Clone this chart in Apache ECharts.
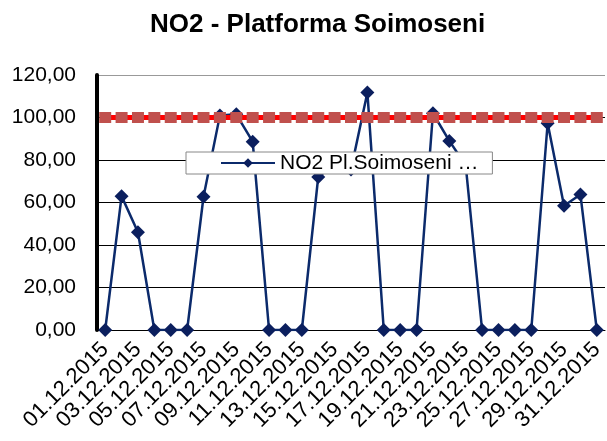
<!DOCTYPE html>
<html>
<head>
<meta charset="utf-8">
<script src="https://cdn.jsdelivr.net/npm/echarts@6/dist/echarts.min.js"></script>
<style>
  html, body { margin: 0; padding: 0; background: #fff; }
  #chart { width: 607px; height: 441px; }
</style>
</head>
<body>
<div id="chart"></div>
<script>
// zilele lunii
const days = [];
for (let d = 1; d <= 31; d++) days.push((d < 10 ? '0' + d : '' + d) + '.12.2015');

// valori NO2
const no2Values = [0, 63, 46, 0, 0, 0, 62.7, 101, 101.5, 88.6, 0, 0, 0, 72, 78, 75.5, 111.8,
    0, 0, 0, 102, 89, 77.5, 0, 0, 0, 0, 97.3, 58.5, 63.8, 0];
// valoare limita
const limitValues = days.map(() => 100);
const yTicks = [0, 20, 40, 60, 80, 100, 120];

const chart = echarts.init(document.getElementById('chart'));

const font = 'Liberation Sans, Arial, sans-serif';

chart.setOption({
    animation: false,
    title: {
        text: 'NO2 - Platforma Soimoseni',
        left: 145,
        top: 7,
        textStyle: { fontFamily: font, fontSize: 26, fontWeight: 'bold', color: '#000' }
    },
    legend: {
        data: ['NO2 Pl.Soimoseni …'],
        left: 186,
        top: 152,
        padding: [0, 14, 0, 34],
        backgroundColor: '#fff',
        borderColor: '#888',
        borderWidth: 1,
        itemWidth: 54,
        itemHeight: 12,
        itemGap: 10,
        z: 10,
        textStyle: { fontFamily: font, fontSize: 21, color: '#000', lineHeight: 22 }
    },
    grid: { left: 97, right: 2, top: 75, bottom: 111 },
    xAxis: {
        type: 'category',
        data: days,
        boundaryGap: true,
        axisLine: { lineStyle: { color: '#000', width: 1 } },
        axisTick: { show: false },
        axisLabel: {
            interval: 1,
            rotate: 45,
            margin: 16,
            fontFamily: font,
            fontSize: 22,
            color: '#000'
        }
    },
    yAxis: {
        type: 'value',
        min: 0,
        max: 120,
        interval: 20,
        axisLine: { show: true, lineStyle: { color: '#000', width: 4 } },
        axisTick: { show: false },
        axisLabel: {
            margin: 21,
            fontFamily: font,
            fontSize: 21,
            color: '#000',
            formatter: v => v.toFixed(2).replace('.', ',')
        },
        splitLine: {
            lineStyle: { color: ['#000', '#000', '#000', '#000', '#000', '#000', '#999'], width: 1 }
        }
    },
    series: [
        {
            name: 'NO2 Pl.Soimoseni …',
            type: 'line',
            data: no2Values,
            symbol: 'diamond',
            symbolSize: 14,
            showAllSymbol: true,
            lineStyle: { color: '#0b2a6b', width: 2.5 },
            itemStyle: { color: '#0b1f5e', borderWidth: 0 },
            z: 2
        },
        {
            name: 'limita',
            type: 'line',
            data: limitValues,
            symbol: 'rect',
            symbolSize: [12, 11],
            showAllSymbol: true,
            lineStyle: { color: '#ff0000', width: 5 },
            itemStyle: { color: '#c0504d', borderWidth: 0 },
            z: 3
        }
    ]
});
</script>
</body>
</html>
